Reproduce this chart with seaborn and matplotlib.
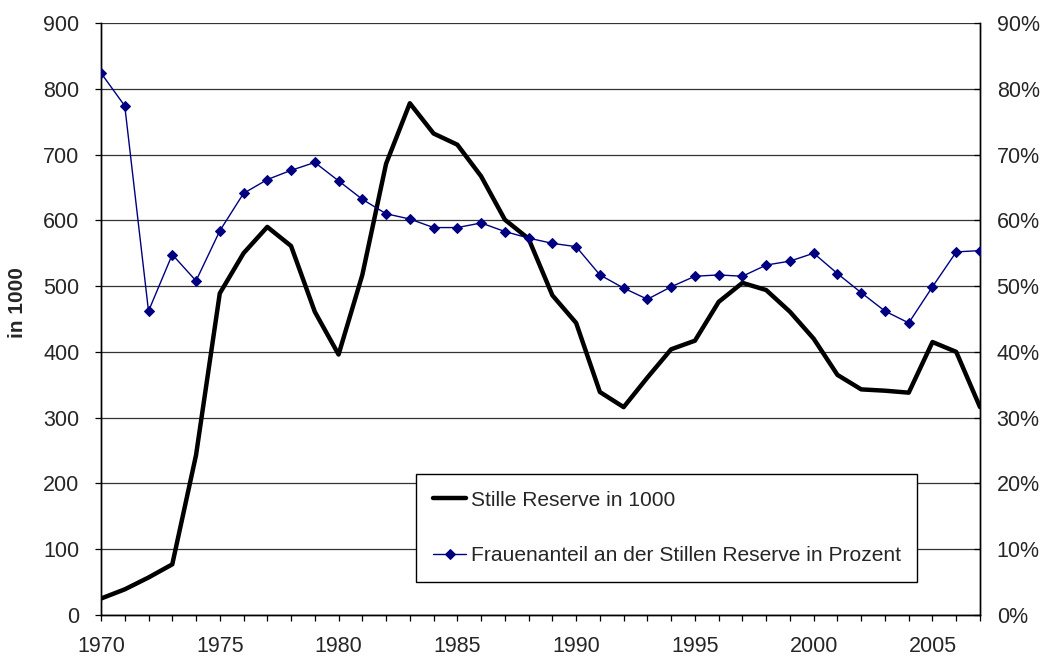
import matplotlib
matplotlib.use("Agg")
import matplotlib.pyplot as plt
import seaborn as sns
import pandas as pd
from matplotlib.ticker import MultipleLocator, FuncFormatter

years = list(range(1970, 2008))
stille_reserve = [25, 39, 57, 77, 243, 489, 550, 590, 561, 461,
                  396, 517, 686, 778, 732, 715, 667, 601, 572, 486,
                  444, 339, 316, 361, 404, 417, 476, 505, 494, 461,
                  420, 365, 343, 341, 338, 415, 400, 316]
frauenanteil = [82.4, 77.4, 46.2, 54.8, 50.8, 58.4, 64.1, 66.2, 67.6, 68.8,
                66.0, 63.2, 61.0, 60.2, 58.9, 58.9, 59.6, 58.3, 57.3, 56.5,
                56.0, 51.7, 49.7, 48.0, 49.9, 51.5, 51.7, 51.5, 53.2, 53.8,
                55.0, 51.9, 49.0, 46.2, 44.4, 49.9, 55.2, 55.4]
label_reserve = "Stille Reserve in 1000"
label_frauen = "Frauenanteil an der Stillen Reserve in Prozent"
y_label = "in 1000"

df = pd.DataFrame({"Jahr": years, "Reserve": stille_reserve, "Frauen": frauenanteil})

sns.set_style("white")
plt.rcParams["font.family"] = ["Liberation Sans", "DejaVu Sans"]

fig = plt.figure(figsize=(10.41, 6.59), dpi=100)
ax = fig.add_axes([101 / 1041, 44 / 659, 879 / 1041, 592 / 659])

sns.lineplot(data=df, x="Jahr", y="Reserve", ax=ax, color="black", linewidth=3.2,
             label=label_reserve, legend=False, zorder=3)
ax2 = ax.twinx()
sns.lineplot(data=df, x="Jahr", y="Frauen", ax=ax2, color="#000080", linewidth=1.0,
             marker="D", markersize=5.5, markeredgecolor="#000080",
             label=label_frauen, legend=False, zorder=4)

ax.set_xlim(1970, 2007)
ax.set_ylim(0, 900)
ax2.set_ylim(0, 90)

ax.xaxis.set_major_locator(MultipleLocator(5))
ax.xaxis.set_minor_locator(MultipleLocator(1))
ax.yaxis.set_major_locator(MultipleLocator(100))
ax2.yaxis.set_major_locator(MultipleLocator(10))
ax2.yaxis.set_major_formatter(FuncFormatter(lambda v, p: f"{v:.0f}%"))

ax.grid(axis="y", color="#333333", linewidth=0.9)
ax.set_axisbelow(True)

ax.set_xlabel("")
ax.set_ylabel(y_label, fontsize=15, fontweight="bold")
ax.yaxis.set_label_coords((27 - 101) / 879, (615 - 303) / 592)
ax2.set_ylabel("")

for a in (ax, ax2):
    a.spines["top"].set_visible(False)
    for s in ("left", "right", "bottom"):
        a.spines[s].set_color("black")
        a.spines[s].set_linewidth(1.0)

ax.tick_params(axis="x", which="both", direction="out", length=4.5, width=0.9,
               color="black", labelsize=15.5, pad=10.5, bottom=True)
ax.tick_params(axis="y", which="major", direction="out", length=4.5, width=0.9,
               color="black", labelsize=15.5, pad=11, left=True)
ax2.tick_params(axis="y", which="major", direction="in", length=4.5, width=0.9,
                color="black", labelsize=15.5, pad=12, right=True)

h1, l1 = ax.get_legend_handles_labels()
h2, l2 = ax2.get_legend_handles_labels()
leg = ax2.legend(h1 + h2, l1 + l2, loc="lower left",
                 bbox_to_anchor=(416 / 1041, 77 / 659), bbox_transform=fig.transFigure,
                 fontsize=15.1, frameon=True, fancybox=False, shadow=False,
                 edgecolor="black", framealpha=1.0, borderaxespad=0,
                 handlelength=1.6, handletextpad=0.2, labelspacing=1.75,
                 borderpad=0.8)
leg.get_frame().set_linewidth(1.0)
leg.set_zorder(10)

fig.savefig("out.png", dpi=100)
